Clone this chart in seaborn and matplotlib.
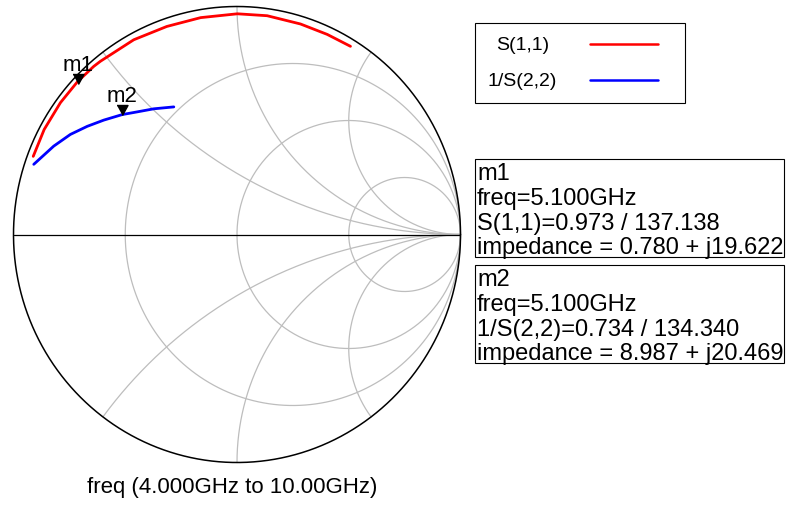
import matplotlib
matplotlib.use("Agg")
import matplotlib.pyplot as plt
from matplotlib.lines import Line2D
from matplotlib.patches import Rectangle
import numpy as np
import pandas as pd
import seaborn as sns

sns.set_style("white")
plt.rcParams["font.family"] = ["Liberation Sans", "DejaVu Sans"]
plt.rcParams["text.color"] = "black"

# Traces, 4 GHz -> 10 GHz (magnitude, angle in degrees)
s11_mag = [0.974, 0.978, 0.979, 0.979, 0.977, 0.975, 0.971, 0.965, 0.965,
           0.968, 0.969, 0.966, 0.966, 0.969]
s11_ang = [159.4, 151.9, 143.8, 136.8, 131.0, 128.8, 118.4, 109.0, 99.7,
           89.9, 82.0, 72.9, 65.3, 58.4]
s22inv_mag = [0.960, 0.907, 0.865, 0.821, 0.779, 0.735, 0.699, 0.665, 0.627]
s22inv_ang = [161.3, 154.7, 149.5, 144.7, 139.9, 134.3, 129.7, 124.0, 116.8]

trace_names = ["S(1,1)", "1/S(2,2)"]
trace_colors = {"S(1,1)": "#ff0000", "1/S(2,2)": "#0000ff"}

# Markers
marker_names = ["m1", "m2"]
marker_mag = [0.973, 0.734]
marker_ang = [137.138, 134.340]
marker_text = [
    ["m1", "freq=5.100GHz", "S(1,1)=0.973 / 137.138",
     "impedance = 0.780 + j19.622"],
    ["m2", "freq=5.100GHz", "1/S(2,2)=0.734 / 134.340",
     "impedance = 8.987 + j20.469"],
]

# Smith chart grid values
grid_r = [1 / 3, 1.0, 3.0]
grid_x = [0.5, 1.0, 2.0]

caption = "freq (4.000GHz to 10.00GHz)"


def to_gamma(mag, ang):
    g = np.asarray(mag) * np.exp(1j * np.deg2rad(np.asarray(ang)))
    return g.real, g.imag


rows = []
for name, mag, ang in [("S(1,1)", s11_mag, s11_ang),
                       ("1/S(2,2)", s22inv_mag, s22inv_ang)]:
    re, im = to_gamma(mag, ang)
    for i, (a, b) in enumerate(zip(re, im)):
        rows.append({"trace": name, "idx": i, "re": a, "im": b})
df = pd.DataFrame(rows)

W, H = 786, 505
fig = plt.figure(figsize=(W / 100, H / 100), dpi=100)


def fx(px):
    return px / W


def fy(py):
    return 1 - py / H


# chart circle: centre (237, 234.5) px, radii 223.5 x 228 px
cx, cy, rx, ry = 237.0, 234.5, 223.5, 228.0
m = 1.02
ax = fig.add_axes([fx(cx - m * rx), fy(cy + m * ry), 2 * m * rx / W, 2 * m * ry / H])
ax.set_xlim(-m, m)
ax.set_ylim(-m, m)
ax.axis("off")

grid_kw = dict(color="#bdbdbd", lw=0.9, zorder=1)
t = np.linspace(0, 2 * np.pi, 400)
for r in grid_r:
    c, rad = r / (1 + r), 1 / (1 + r)
    ax.plot(c + rad * np.cos(t), rad * np.sin(t), **grid_kw)

rr = np.concatenate([[0], np.logspace(-3, 4, 600)])
for x in grid_x:
    for s in (1, -1):
        z = rr + 1j * s * x
        g = (z - 1) / (z + 1)
        ax.plot(g.real, g.imag, **grid_kw)

ax.plot(np.cos(t), np.sin(t), color="black", lw=1.1, zorder=2)
ax.plot([-1, 1], [0, 0], color="black", lw=0.9, zorder=2)

sns.lineplot(data=df, x="re", y="im", hue="trace", palette=trace_colors,
             sort=False, estimator=None, units="trace", lw=2.0, ax=ax,
             legend=False, zorder=3, solid_joinstyle="round")

tri = [(-0.55, 1.0), (0.55, 1.0), (0.0, 0.0)]
mre, mim = to_gamma(marker_mag, marker_ang)
for name, a, b in zip(marker_names, mre, mim):
    ax.plot([a], [b], marker=tri, ms=14.4, color="black", ls="none", zorder=4)
    ax.annotate(name, (a, b), xytext=(0, 9.4), textcoords="offset points",
                ha="center", va="baseline", fontsize=16, zorder=5)

# legend box
fig.add_artist(Rectangle((fx(475), fy(102.7)), fx(685) - fx(475),
                         fy(22.7) - fy(102.7), fill=False, ec="black", lw=0.8,
                         transform=fig.transFigure))
for name, yy in zip(trace_names, [45.0, 81.0]):
    fig.text(fx(522.5), fy(yy), name, ha="center", va="center", fontsize=14)
    fig.add_artist(Line2D([fx(590), fx(658)], [fy(yy - 0.7), fy(yy - 0.7)],
                          color=trace_colors[name], lw=1.8,
                          transform=fig.transFigure))

# marker readout boxes
for lines, top, bottom in zip(marker_text, [159, 265], [257, 363]):
    fig.add_artist(Rectangle((fx(475), fy(bottom)), fx(784) - fx(475),
                             fy(top) - fy(bottom), fill=False, ec="black",
                             lw=0.8, transform=fig.transFigure))
    for k, line in enumerate(lines):
        fig.text(fx(477), fy(top + 21 + 24.8 * k), line, ha="left",
                 va="baseline", fontsize=17)

fig.text(fx(232), fy(487), caption, ha="center", va="center", fontsize=16)

fig.savefig("out.png", dpi=100)
